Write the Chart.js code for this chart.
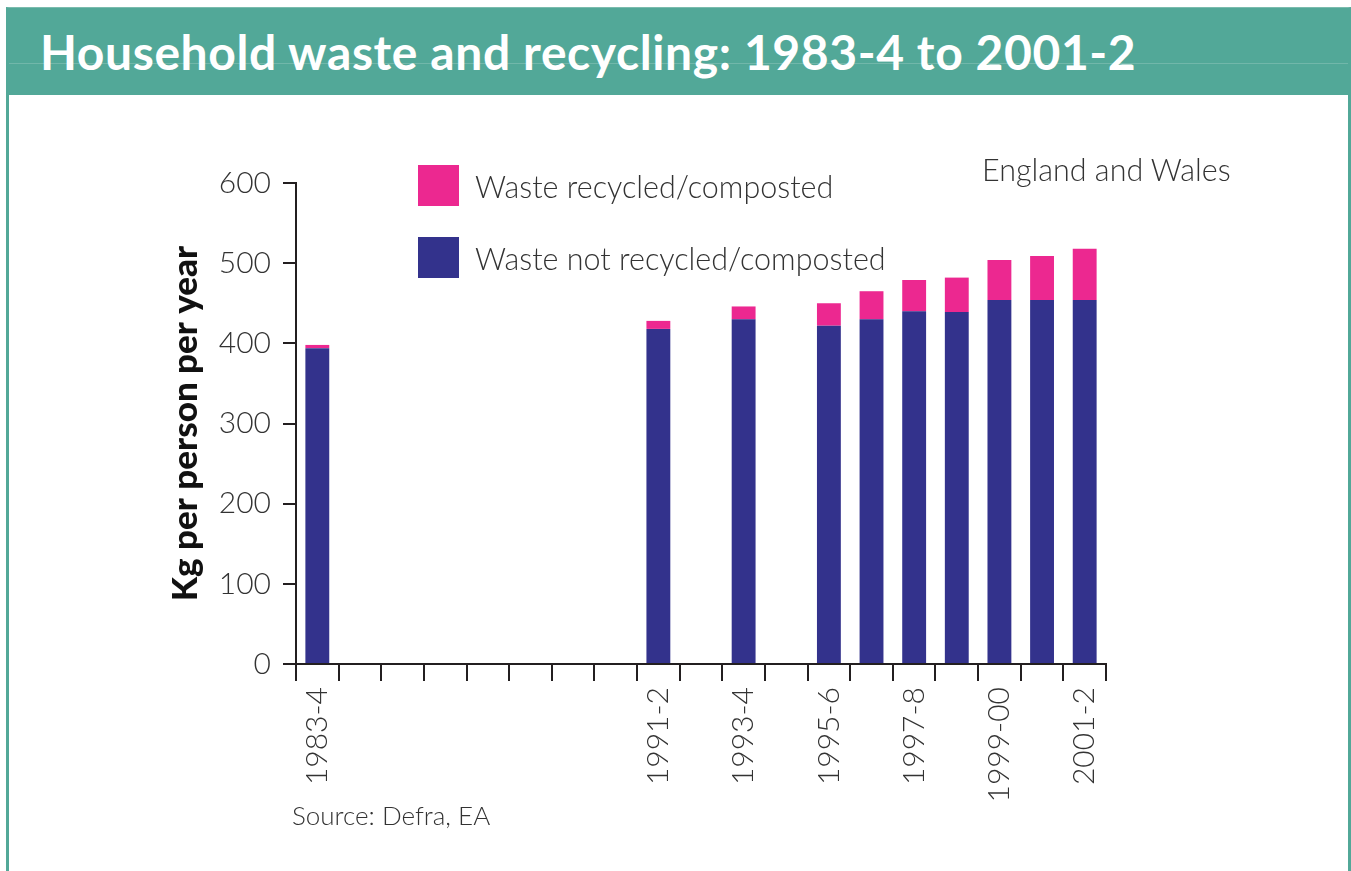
<!DOCTYPE html>
<html>
<head>
<meta charset="utf-8">
<script src="https://cdn.jsdelivr.net/npm/chart.js@4/dist/chart.umd.min.js"></script>
<style>
    html, body {
        margin: 0;
        padding: 0;
        background: #ffffff;
    }

    #page {
        position: relative;
        width: 1351px;
        height: 871px;
        overflow: hidden;
        font-family: "Lato", "Open Sans", sans-serif;
        color: #333333;
    }

    #frame {
        position: absolute;
        left: 6px;
        top: 7px;
        width: 1339px;
        height: 880px;
        border-left: 3px solid #52a898;
        border-right: 3px solid #52a898;
        border-top: 1px solid #7bbcae;
    }

    #banner {
        position: absolute;
        left: 9px;
        top: 8px;
        width: 1339px;
        height: 87px;
        background: #52a898;
    }

    #banner .rule {
        position: absolute;
        left: 0;
        top: 55px;
        width: 100%;
        height: 1px;
        background: rgba(255, 255, 255, 0.18);
    }

    #title {
        position: absolute;
        left: 31px;
        top: 15px;
        margin: 0;
        font-size: 48px;
        font-weight: 700;
        color: #ffffff;
        white-space: nowrap;
        letter-spacing: 0.6px;
    }

    #chartBox {
        position: absolute;
        left: 0;
        top: 0;
        width: 1351px;
        height: 871px;
    }

    .legend-item {
        position: absolute;
        left: 418px;
        height: 41px;
        display: flex;
        align-items: center;
        font-size: 30.5px;
        font-weight: 300;
        white-space: nowrap;
    }

    .swatch {
        width: 41px;
        height: 41px;
        margin-right: 16px;
    }

    #region {
        position: absolute;
        left: 982px;
        top: 151px;
        font-size: 30.5px;
        font-weight: 300;
        white-space: nowrap;
    }

    #source {
        position: absolute;
        left: 292px;
        top: 799px;
        font-size: 26px;
        font-weight: 300;
        white-space: nowrap;
    }
</style>
</head>
<body>

<div id="page">

    <div id="frame"></div>

    <div id="banner">
        <div class="rule"></div>
        <h1 id="title">Household waste and recycling: 1983-4 to 2001-2</h1>
    </div>

    <div id="chartBox">
        <canvas id="wasteChart" width="1351" height="871"></canvas>
    </div>

    <div class="legend-item" style="top:165px;">
        <div class="swatch" style="background:#ec2890;"></div>
        <span>Waste recycled/composted</span>
    </div>

    <div class="legend-item" style="top:237px;">
        <div class="swatch" style="background:#33328c;"></div>
        <span>Waste not recycled/composted</span>
    </div>

    <div id="region">England and Wales</div>

    <div id="source">Source: Defra, EA</div>

</div>

<script>
const years = [
    "1983-4", "1984-5", "1985-6", "1986-7", "1987-8", "1988-9", "1989-90",
    "1990-1", "1991-2", "1992-3", "1993-4", "1994-5", "1995-6", "1996-7",
    "1997-8", "1998-9", "1999-00", "2000-1", "2001-2"
];

const shownLabels = ["1983-4", "1991-2", "1993-4", "1995-6", "1997-8", "1999-00", "2001-2"];

// kg per person per year
const notRecycled = [394, null, null, null, null, null, null, null, 418, null, 430, null, 422, 430, 440, 439, 454, 454, 454];
const recycled = [4, null, null, null, null, null, null, null, 10, null, 16, null, 28, 35, 39, 43, 50, 55, 64];

const yTicks = [0, 100, 200, 300, 400, 500, 600];

const inkColor = "#231f20";
const textColor = "#333333";
const tickFont = { family: "Lato", size: 30, weight: 300 };

const ctx = document.getElementById("wasteChart");

new Chart(ctx, {

    type: "bar",

    data: {

        labels: years,

        datasets: [
            {
                label: "Waste not recycled/composted",
                data: notRecycled,
                backgroundColor: "#33328c",
                barPercentage: 0.56,
                categoryPercentage: 1
            },
            {
                label: "Waste recycled/composted",
                data: recycled,
                backgroundColor: "#ec2890",
                barPercentage: 0.56,
                categoryPercentage: 1
            }
        ]

    },

    options: {

        responsive: false,
        animation: false,

        layout: {
            padding: { left: 165, top: 183, right: 245, bottom: 0 }
        },

        plugins: {
            legend: { display: false },
            tooltip: { enabled: false }
        },

        scales: {

            x: {
                stacked: true,
                afterFit: (scale) => { scale.height = 207; },
                border: { color: inkColor, width: 2 },
                grid: {
                    offset: true,
                    drawOnChartArea: false,
                    color: inkColor,
                    lineWidth: 2,
                    tickLength: 17
                },
                ticks: {
                    autoSkip: false,
                    maxRotation: 90,
                    minRotation: 90,
                    padding: 6,
                    color: textColor,
                    font: tickFont,
                    callback: function (value) {
                        const label = this.getLabelForValue(value);
                        return shownLabels.includes(label) ? label : "";
                    }
                }
            },

            y: {
                stacked: true,
                min: 0,
                max: 600,
                afterFit: (scale) => { scale.width = 131; },
                afterBuildTicks: (scale) => {
                    scale.ticks = yTicks.map((v) => ({ value: v }));
                },
                border: { color: inkColor, width: 2 },
                grid: {
                    drawOnChartArea: false,
                    color: inkColor,
                    lineWidth: 2,
                    tickLength: 13
                },
                ticks: {
                    padding: 12,
                    color: textColor,
                    font: tickFont
                },
                title: {
                    display: true,
                    text: "Kg per person per year",
                    color: "#111111",
                    font: { family: "Lato", size: 35, weight: 900 },
                    padding: { top: 0, bottom: 0 }
                }
            }

        }

    }

});
</script>

</body>
</html>
